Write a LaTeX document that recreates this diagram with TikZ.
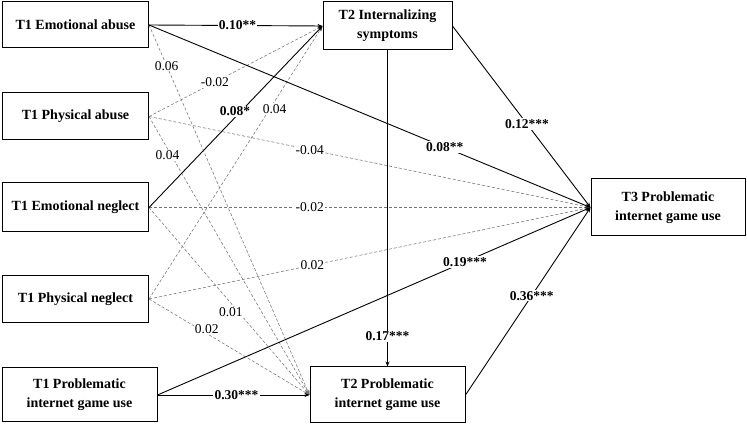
\documentclass[tikz,border=0pt]{standalone}
\usepackage{fontspec}
\setmainfont{Liberation Serif}
\usetikzlibrary{arrows.meta}
\begin{document}
\begin{tikzpicture}[x=1pt,y=-1pt,
  box/.style={draw=black, line width=1pt, fill=white, align=center, inner sep=0pt,
    font=\fontsize{14}{19}\selectfont\bfseries},
  sig/.style={draw=black, line width=0.9pt, -{Stealth[length=5pt,width=4pt]}},
  ns/.style={draw=black!55, line width=0.55pt, dash pattern=on 3pt off 2pt, -{Stealth[length=5pt,width=4pt]}},
  lab/.style={fill=white, inner sep=1.2pt, font=\fontsize{13.5}{15}\selectfont},
  blab/.style={lab, font=\fontsize{13.5}{15}\selectfont\bfseries}]
\useasboundingbox (0,0) rectangle (747,427);
\node[box, minimum width=146pt, minimum height=46pt] (ea) at (75.5,25) {T1 Emotional abuse};
\node[box, minimum width=146pt, minimum height=47pt] (pa) at (75.5,116.5) {T1 Physical abuse};
\node[box, minimum width=146pt, minimum height=49pt] (en) at (75.5,207.5) {T1 Emotional neglect};
\node[box, minimum width=146pt, minimum height=47pt] (pn) at (75.5,299) {T1 Physical neglect};
\node[box, minimum width=155pt, minimum height=54pt] (p1) at (79.5,395) {T1 Problematic\\internet game use};
\node[box, minimum width=129pt, minimum height=48pt] (is) at (387.5,26) {T2 Internalizing\\symptoms};
\node[box, minimum width=155pt, minimum height=56pt] (p2) at (387.5,395) {T2 Problematic\\internet game use};
\node[box, minimum width=154pt, minimum height=57pt] (p3) at (668,207.5) {T3 Problematic\\internet game use};
% dashed (non-significant) paths
\draw[ns] (ea.east) -- node[lab, pos=0.11] {0.06} (p2.west);
\draw[ns] (pa.east) -- node[lab, pos=0.38] {-0.02} (is.west);
\draw[ns] (pa.east) -- node[lab, pos=0.364] {-0.04} (p3.west);
\draw[ns] (pa.east) -- node[lab, pos=0.14, xshift=-4pt] {0.04} (p2.west);
\draw[ns] (en.east) -- node[lab, pos=0.364] {-0.02} (p3.west);
\draw[ns] (en.east) -- node[lab, pos=0.56, xshift=-8pt] {0.01} (p2.west);
\draw[ns] (pn.east) -- node[lab, pos=0.695, xshift=5pt] {0.04} (is.west);
\draw[ns] (pn.east) -- node[lab, pos=0.37] {0.02} (p3.west);
\draw[ns] (pn.east) -- node[lab, pos=0.36, yshift=4pt] {0.02} (p2.west);
% solid (significant) paths
\draw[sig] (ea.east) -- node[blab, pos=0.51] {0.10**} (is.west);
\draw[sig] (ea.east) -- node[blab, pos=0.67] {0.08**} (p3.west);
\draw[sig] (en.east) -- node[blab, pos=0.53, xshift=-6pt] {0.08*} (is.west);
\draw[sig] (p1.east) -- node[blab, pos=0.71] {0.19***} (p3.west);
\draw[sig] (p1.east) -- node[blab, pos=0.52] {0.30***} (p2.west);
\draw[sig] (is.east) -- node[blab, pos=0.54] {0.12***} (p3.west);
\draw[sig] (is.south) -- node[blab, pos=0.905] {0.17***} (p2.north);
\draw[sig] (p2.east) -- node[blab, pos=0.53] {0.36***} (p3.west);
\end{tikzpicture}
\end{document}
